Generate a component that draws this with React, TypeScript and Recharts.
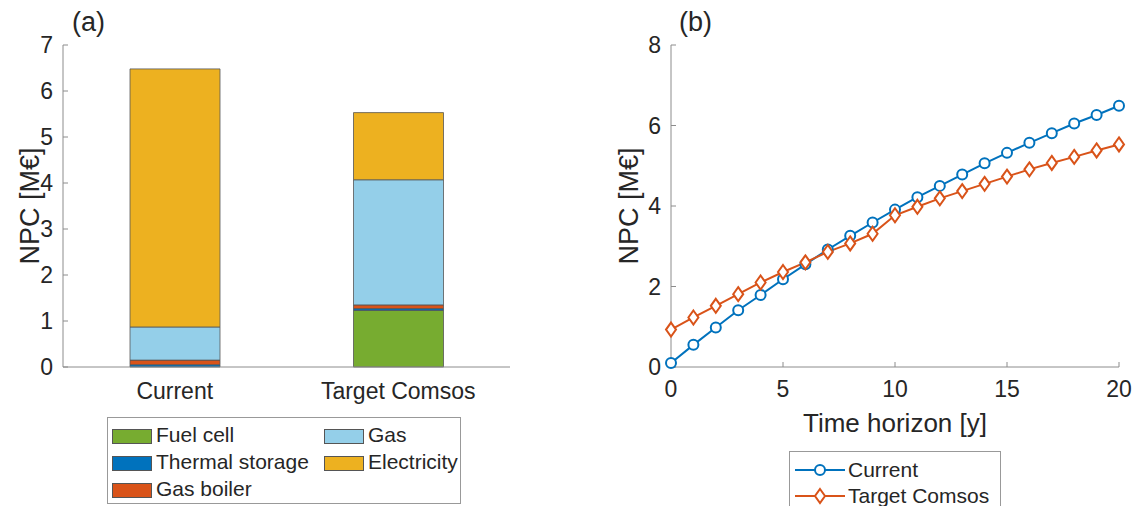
import React from 'react';
import {
  BarChart, Bar, LineChart, Line, XAxis, YAxis,
} from 'recharts';

// (a) stacked NPC per scenario [M€]
const categories = ['Current', 'Target Comsos'];
const fuelCell = [0, 1.23];
const thermalStorage = [0.05, 0.04];
const gasBoiler = [0.1, 0.08];
const gas = [0.72, 2.72];
const electricity = [5.61, 1.46];

// (b) NPC over the time horizon [M€]
const years = [0, 1, 2, 3, 4, 5, 6, 7, 8, 9, 10, 11, 12, 13, 14, 15, 16, 17, 18, 19, 20];
const currentNpc = [0.1, 0.55, 0.98, 1.41, 1.79, 2.18, 2.55, 2.92, 3.26, 3.59, 3.91, 4.22, 4.5, 4.78, 5.06, 5.32, 5.57, 5.81, 6.05, 6.26, 6.49];
const targetNpc = [0.93, 1.23, 1.52, 1.81, 2.1, 2.36, 2.6, 2.86, 3.07, 3.31, 3.77, 3.98, 4.19, 4.37, 4.55, 4.73, 4.91, 5.07, 5.22, 5.38, 5.53];

const barTicks = [0, 1, 2, 3, 4, 5, 6, 7];
const lineYTicks = [0, 2, 4, 6, 8];
const lineXTicks = [0, 5, 10, 15, 20];

const BLUE = '#0072BD';
const ORANGE = '#D95319';
const AXIS = '#8c8c8c';
const TEXT = '#262626';
const FONT = '"Liberation Sans", Arial, sans-serif';

const barSeries = [
  { key: 'fuelCell', name: 'Fuel cell', color: '#77AC30', values: fuelCell },
  { key: 'thermalStorage', name: 'Thermal storage', color: BLUE, values: thermalStorage },
  { key: 'gasBoiler', name: 'Gas boiler', color: ORANGE, values: gasBoiler },
  { key: 'gas', name: 'Gas', color: '#94CFE9', values: gas },
  { key: 'electricity', name: 'Electricity', color: '#EDB120', values: electricity },
];

const barData = categories.map((name, i) => {
  const row: Record<string, any> = { name };
  barSeries.forEach(s => { row[s.key] = s.values[i]; });
  return row;
});

const lineData = years.map((year, i) => ({ year, current: currentNpc[i], target: targetNpc[i] }));

const tickStyle = { fill: TEXT, fontSize: 23 };
const noTick = () => <g />;

const CircleDot = (props: any) => {
  const { cx, cy, index } = props;
  return <circle key={`c-${index}`} cx={cx} cy={cy} r={5} fill="#fff" stroke={BLUE} strokeWidth={2} />;
};

const DiamondDot = (props: any) => {
  const { cx, cy, index } = props;
  return (
    <path
      key={`d-${index}`}
      d={`M${cx},${cy - 7} L${cx + 5},${cy} L${cx},${cy + 7} L${cx - 5},${cy} Z`}
      fill="#fff"
      stroke={ORANGE}
      strokeWidth={2}
    />
  );
};

const legendText = { fontSize: 21, color: TEXT, lineHeight: '27px', whiteSpace: 'nowrap' as const };

const Swatch = ({ color }: { color: string }) => (
  <span style={{ display: 'inline-block', width: 40, height: 15, background: color, border: '1px solid #555', boxSizing: 'border-box', marginRight: 4, verticalAlign: '-2px' }} />
);

const BarLegend = () => {
  const col1 = barSeries.slice(0, 3);
  const col2 = barSeries.slice(3);
  return (
    <div style={{ position: 'absolute', left: 107, top: 417, width: 354, height: 87, border: '1px solid #999', boxSizing: 'border-box', background: '#fff' }}>
      <div style={{ position: 'absolute', left: 4, top: 3 }}>
        {col1.map(s => <div key={s.key} style={legendText}><Swatch color={s.color} />{s.name}</div>)}
      </div>
      <div style={{ position: 'absolute', left: 216, top: 3 }}>
        {col2.map(s => <div key={s.key} style={legendText}><Swatch color={s.color} />{s.name}</div>)}
      </div>
    </div>
  );
};

const LineLegend = () => (
  <div style={{ position: 'absolute', left: 789, top: 451, width: 212, height: 70, border: '1px solid #999', boxSizing: 'border-box', background: '#fff' }}>
    {[
      { name: 'Current', color: BLUE, marker: 'circle' },
      { name: 'Target Comsos', color: ORANGE, marker: 'diamond' },
    ].map((s, i) => (
      <div key={s.name} style={{ position: 'absolute', left: 4, top: 4 + i * 26, ...legendText }}>
        <svg width={52} height={20} style={{ verticalAlign: '-3px', marginRight: 2 }}>
          <line x1={1} y1={10} x2={51} y2={10} stroke={s.color} strokeWidth={2} />
          {s.marker === 'circle'
            ? <circle cx={26} cy={10} r={5} fill="#fff" stroke={s.color} strokeWidth={2} />
            : <path d="M26,3 L31,10 L26,17 L21,10 Z" fill="#fff" stroke={s.color} strokeWidth={2} />}
        </svg>
        {s.name}
      </div>
    ))}
  </div>
);

export default function App() {
  return (
    <div style={{ position: 'absolute', left: 0, top: 0, width: 1132, height: 506, background: '#fff', fontFamily: FONT, overflow: 'hidden' }}>
      <div style={{ position: 'absolute', left: 72, top: 7, fontSize: 27, color: TEXT }}>(a)</div>
      <div style={{ position: 'absolute', left: 679, top: 7, fontSize: 27, color: TEXT }}>(b)</div>

      <div style={{ position: 'absolute', left: 0, top: 0 }}>
        <BarChart width={520} height={410} data={barData} margin={{ top: 45, right: 10, bottom: 0, left: 0 }}>
          <XAxis dataKey="name" tick={tickStyle} tickLine={false} tickSize={0} tickMargin={16} height={43} stroke={AXIS} />
          <XAxis xAxisId="top" dataKey="name" orientation="top" height={0} tick={noTick} tickLine={false} stroke={AXIS} />
          <YAxis
            domain={[0, 7]}
            ticks={barTicks}
            width={63}
            tick={tickStyle}
            tickSize={-5}
            tickMargin={15}
            stroke={AXIS}
            label={{ value: 'NPC [M€]', angle: -90, position: 'center', dx: -2, fill: TEXT, fontSize: 27 }}
          />
          <YAxis yAxisId="right" orientation="right" domain={[0, 7]} ticks={barTicks} width={0} tick={noTick} tickSize={-5} stroke={AXIS} />
          {barSeries.map(s => (
            <Bar key={s.key} dataKey={s.key} name={s.name} stackId="a" fill={s.color} stroke="#555" strokeWidth={0.8} barSize={90} isAnimationActive={false} />
          ))}
        </BarChart>
      </div>

      <div style={{ position: 'absolute', left: 590, top: 0 }}>
        <LineChart width={542} height={506} data={lineData} margin={{ top: 45, right: 13, bottom: 27, left: 0 }}>
          <XAxis
            dataKey="year"
            type="number"
            domain={[0, 20]}
            ticks={lineXTicks}
            tick={tickStyle}
            tickSize={-5}
            tickMargin={19}
            height={112}
            stroke={AXIS}
            label={{ value: 'Time horizon [y]', position: 'center', fill: TEXT, fontSize: 26 }}
          />
          <XAxis xAxisId="top" dataKey="year" type="number" orientation="top" domain={[0, 20]} ticks={lineXTicks} height={0} tick={noTick} tickSize={-5} stroke={AXIS} />
          <YAxis
            domain={[0, 8]}
            ticks={lineYTicks}
            width={81}
            tick={tickStyle}
            tickSize={-5}
            tickMargin={15}
            stroke={AXIS}
            label={{ value: 'NPC [M€]', angle: -90, position: 'center', dx: -2, fill: TEXT, fontSize: 27 }}
          />
          <YAxis yAxisId="right" orientation="right" domain={[0, 8]} ticks={lineYTicks} width={0} tick={noTick} tickSize={-5} stroke={AXIS} />
          <Line dataKey="current" name="Current" stroke={BLUE} strokeWidth={2} dot={CircleDot} isAnimationActive={false} />
          <Line dataKey="target" name="Target Comsos" stroke={ORANGE} strokeWidth={2} dot={DiamondDot} isAnimationActive={false} />
        </LineChart>
      </div>

      <BarLegend />
      <LineLegend />
    </div>
  );
}
